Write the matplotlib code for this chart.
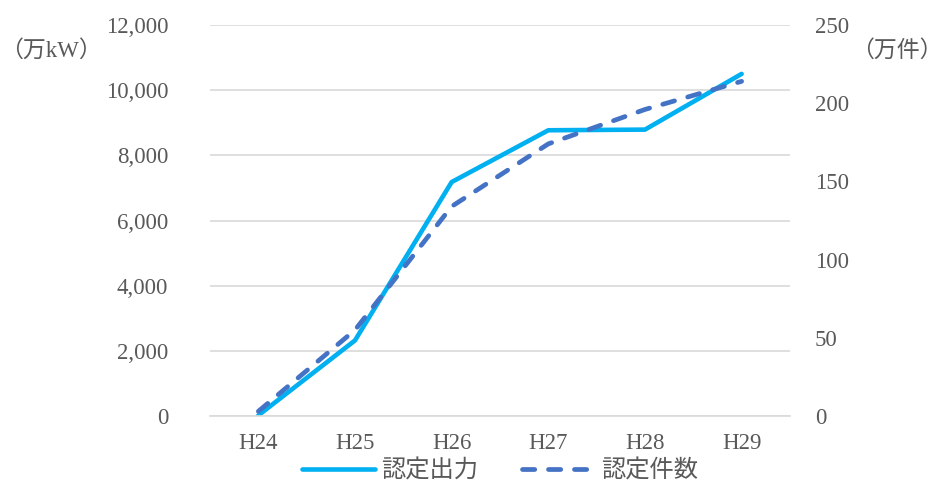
import matplotlib
matplotlib.use("Agg")
import matplotlib.pyplot as plt

# data
years = ["H24", "H25", "H26", "H27", "H28", "H29"]
output_mw = [20, 2320, 7180, 8770, 8790, 10500]      # 認定出力 (万kW)
count = [3, 55, 134, 174, 196, 214]                  # 認定件数 (万件)

left_ticks = [0, 2000, 4000, 6000, 8000, 10000, 12000]
right_ticks = [0, 50, 100, 150, 200, 250]

plt.rcParams['font.family'] = ['Liberation Serif', 'Noto Sans CJK JP']
text_color = "#595959"
fs = 16.5

fig = plt.figure(figsize=(9.43, 4.83), dpi=100)
ax = fig.add_axes([0.2227, 0.1387, 0.615, 0.8095])
ax2 = ax.twinx()

x = range(len(years))
l1, = ax.plot(x, output_mw, color="#00B0F0", lw=3.3, solid_capstyle="round",
              solid_joinstyle="round", label="認定出力")
l2, = ax2.plot(x, count, color="#4472C4", lw=3.4, dash_capstyle="round",
               linestyle=(0, (2.6, 2.9)), label="認定件数")

ax.set_xlim(-0.5, len(years) - 0.5)
ax.set_ylim(0, 12000)
ax2.set_ylim(0, 250)
ax.set_yticks(left_ticks)
ax.set_yticklabels([f"{v:,}" for v in left_ticks])
ax2.set_yticks(right_ticks)
ax.set_xticks(list(x))
ax.set_xticklabels(years)

ax.grid(axis="y", color="#D9D9D9", lw=1.2)
ax.set_axisbelow(True)
for a in (ax, ax2):
    for s in a.spines.values():
        s.set_visible(False)
    a.tick_params(length=0, labelsize=fs, colors=text_color)
ax.spines["bottom"].set_visible(True)
ax.spines["bottom"].set_color("#D9D9D9")
ax.spines["bottom"].set_linewidth(1.2)
ax.tick_params(axis="y", pad=30)
ax2.tick_params(axis="y", pad=18)
ax.tick_params(axis="x", pad=12)

fig.text(0.0, 0.895, "（万kW）", fontsize=fs, color=text_color, ha="left", va="center")
fig.text(1.0, 0.895, "（万件）", fontsize=fs, color=text_color, ha="right", va="center")

fig.legend(handles=[l1, l2], loc="lower center", bbox_to_anchor=(0.53, -0.045),
           ncol=2, frameon=False, fontsize=17.5, labelcolor=text_color,
           handlelength=3.0, handletextpad=0.25, columnspacing=1.8)

fig.savefig("out.png", dpi=100)
